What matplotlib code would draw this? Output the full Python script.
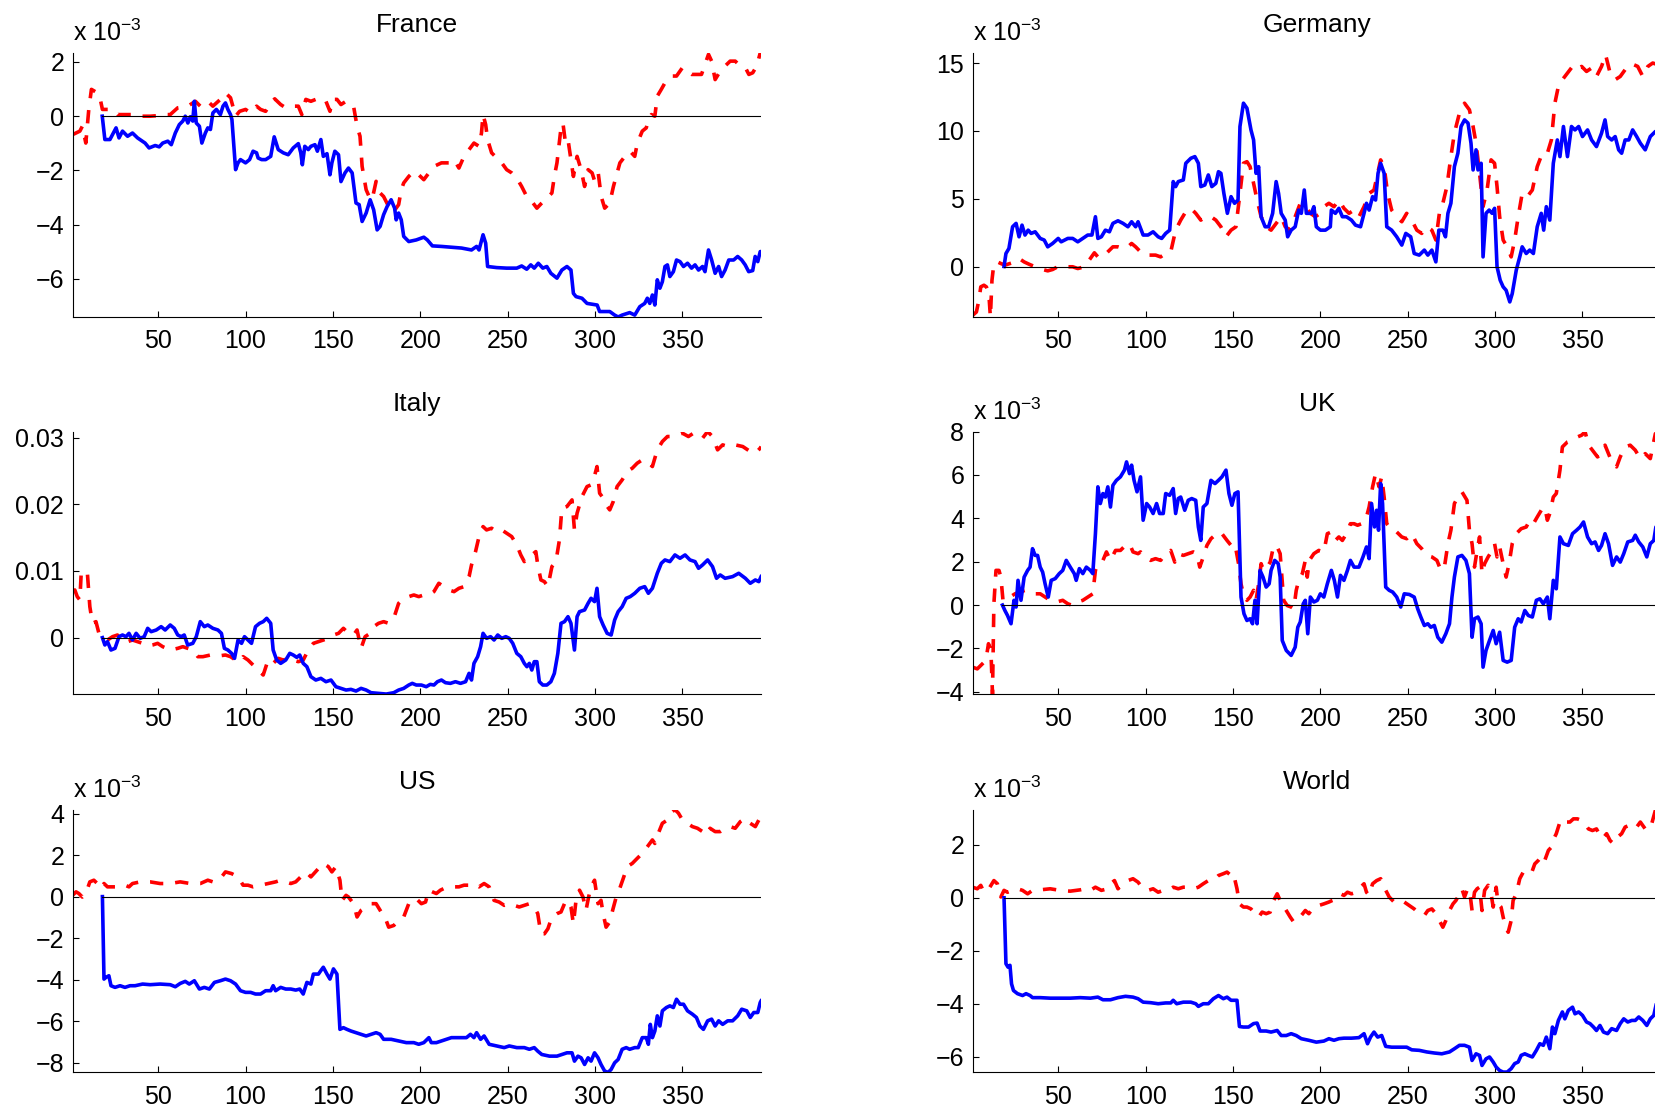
import numpy as np
import matplotlib
matplotlib.use("Agg")
import matplotlib.pyplot as plt
from matplotlib.ticker import FixedLocator, FuncFormatter

plt.rcParams["font.family"] = ["Liberation Sans", "DejaVu Sans"]
plt.rcParams["mathtext.fontset"] = "custom"
plt.rcParams["mathtext.rm"] = "Liberation Sans"
plt.rcParams["mathtext.it"] = "Liberation Sans:italic"
plt.rcParams["mathtext.bf"] = "Liberation Sans:bold"

# (period, value) pairs, values in units of 1e-3
france_blue = [
    (18, 0), (19.5, -0.86), (22.4, -0.86), (25.9, -0.43), (27.6, -0.8), (29.6, -0.55),
    (32.5, -0.74), (35.3, -0.62), (38.2, -0.8), (42.5, -0.99), (44.8, -1.17), (48.3, -1.08),
    (50.6, -1.13), (52.6, -0.99), (55.5, -0.92), (57.5, -1.05), (59.8, -0.62), (62.1, -0.31),
    (64.1, -0.18), (65.5, 0), (67, -0.25), (68.4, -0.02), (69.8, -0.18), (70.7, 0.55),
    (71.8, -0.25), (73.6, -0.37), (75, -0.99), (77, -0.62), (78.4, -0.43), (79.9, -0.49),
    (81.3, 0.12), (83.3, 0.25), (85.6, 0.06), (87.1, 0.37), (88.5, 0.49), (89.9, 0.25),
    (91.4, 0.06), (92.2, -0.12), (94.3, -1.97), (95.7, -1.72), (97.1, -1.6), (100, -1.72),
    (102.3, -1.6), (104.3, -1.29), (106.3, -1.35), (107.2, -1.54), (109.2, -1.6), (111.5, -1.6),
    (114.4, -1.48), (116.4, -0.76), (118.7, -1.23), (121.6, -1.35), (124.4, -1.42), (127.3, -1.17),
    (130.2, -1.01), (131.6, -1.35), (132.5, -1.79), (133.9, -1.11), (135.9, -1.23), (137.4, -1.11),
    (139.7, -1.05), (141.1, -1.29), (143.1, -0.86), (144.5, -1.48), (146.6, -1.38), (148.3, -2.16),
    (149.4, -1.72), (151.1, -1.29), (153.2, -1.42), (154.6, -2.41), (156.9, -2.09), (158.9, -1.91),
    (161, -2.09), (163.2, -3.2), (165, -3.26), (166.7, -3.88), (169, -3.57), (171.3, -3.08),
    (173.3, -3.45), (175.3, -4.19), (177, -4.06), (179, -3.63), (181, -3.33), (183.3, -3.08),
    (185.3, -3.39), (186.2, -3.82), (187.6, -3.57), (189.1, -3.82), (190.5, -4.43), (193.4, -4.62),
    (197.7, -4.56), (202, -4.46), (204, -4.56), (206.9, -4.78), (212.1, -4.8), (217.8, -4.83),
    (223.6, -4.86), (229.3, -4.93), (232.2, -4.8), (233.6, -4.93), (235.9, -4.37), (237.4, -4.68),
    (238.5, -5.54), (243.7, -5.58), (249.4, -5.6), (255.2, -5.6), (258, -5.52), (260.9, -5.64),
    (263.2, -5.48), (265.2, -5.6), (267.5, -5.42), (270.1, -5.6), (272.4, -5.54), (274.7, -5.79),
    (278.2, -5.97), (281, -5.67), (283.9, -5.54), (286.2, -5.67), (287.6, -6.53), (289.1, -6.65),
    (292.5, -6.71), (295.4, -6.9), (301.2, -6.96), (302.6, -7.2), (308.4, -7.2), (311.2, -7.33),
    (313.2, -7.4), (315.5, -7.33), (319.8, -7.24), (322.7, -7.33), (325.6, -7.02), (328.4, -6.9),
    (329.9, -6.71), (331.3, -6.9), (332.8, -6.59), (334.2, -6.96), (335.6, -6.03), (337.1, -6.34),
    (338.5, -6.1), (340, -5.54), (341.4, -5.48), (342.8, -5.91), (344.8, -5.73), (346.6, -5.3),
    (348.6, -5.36), (350.6, -5.54), (352.9, -5.42), (355.2, -5.6), (357.2, -5.48), (359.2, -5.67),
    (361.5, -5.54), (362.9, -5.73), (364.9, -4.93), (366.7, -5.3), (368.7, -5.79), (370.7, -5.54),
    (372.4, -5.91), (374.4, -5.67), (376.5, -5.3), (379.3, -5.3), (381.6, -5.17), (383.9, -5.3),
    (385.9, -5.48), (387.9, -5.73), (390.2, -5.69), (391.6, -5.17), (393.1, -5.36), (394.5, -4.99),
    (395, -4.99),
]
france_red = [
    (1, -0.68), (5.2, -0.55), (6.6, -0.37), (8.6, -0.99), (10.3, 0.25), (11.8, 0.99), (15.2, 0.86),
    (16.7, 0.68), (18.1, 0.25), (21, 0.25), (23.9, 0.25), (26.7, 0.06), (31, 0.06), (35.3, 0.06),
    (39.7, 0), (45.4, 0), (49.7, 0.02), (52.6, 0.06), (56.9, 0.06), (61.2, 0.31), (67, 0.37),
    (71.3, 0.55), (74.1, 0.37), (78.4, 0.55), (81.3, 0.37), (85.6, 0.62), (88.5, 0.86), (91.4, 0.68),
    (94.3, 0), (96.6, 0.18), (100, 0.25), (102.9, 0.12), (106.3, 0.37), (108.6, 0.25), (111.5, 0.18),
    (114.4, 0.49), (116.7, 0.64), (120.1, 0.43), (123, 0.31), (125.9, 0.37), (130.2, 0.37),
    (132.2, 0.06), (134.5, 0.62), (137.4, 0.55), (140.2, 0.62), (143.1, 0.49), (146, 0.55),
    (148.3, 0.18), (149.7, 0.62), (152.3, 0.62), (154.6, 0.43), (157.5, 0.55), (160.3, 0.43),
    (161.8, 0.37), (163.8, -0.37), (165.5, -0.74), (166.7, -1.85), (169, -2.71), (170.7, -2.96),
    (172.4, -3.08), (174.7, -2.4), (177, -2.83), (179, -2.96), (181.9, -3.33), (184.8, -3.51),
    (187.6, -3.26), (189.1, -2.71), (190.5, -2.46), (193.4, -2.22), (196.3, -2.03), (199.1, -2.16),
    (202, -2.34), (204.9, -2.09), (207.8, -1.85), (212.1, -1.72), (216.4, -1.72), (219.3, -1.6),
    (222.1, -1.91), (225, -1.48), (227.9, -1.23), (230.7, -0.99), (233.6, -1.11), (235, -0.62),
    (235.9, 0.06), (237.4, -0.31), (238.5, -0.86), (240.8, -1.35), (246.6, -1.72), (249.4, -1.97),
    (252.3, -2.09), (255.2, -2.28), (258, -2.59), (260.9, -2.96), (263.8, -3.14), (266.7, -3.39),
    (269.5, -3.2), (272.4, -3.02), (275.3, -2.83), (276.7, -2.22), (278.2, -1.72), (280.4, -0.49),
    (281.6, -0.25), (283.3, -1.11), (284.8, -0.99), (286.2, -1.6), (287.6, -2.22), (289.7, -1.48),
    (292, -1.97), (294, -2.59), (296, -1.97), (298.3, -2.09), (299.8, -2.4), (301.8, -2.09),
    (303.5, -2.96), (305.5, -3.39), (308.4, -3.2), (310.5, -2.59), (314.2, -1.72), (317.1, -1.48),
    (320, -1.29), (322.7, -1.48), (324.2, -0.99), (327, -0.55), (329.3, -0.43), (330.5, -0.12),
    (332.2, 0.06), (334.2, 0), (335.6, 0.74), (337.9, 0.99), (340, 1.23), (342, 1.35), (343.7, 1.48),
    (346.6, 1.48), (350, 1.79), (352.3, 1.66), (355.2, 1.54), (358.6, 1.54), (360.9, 1.54),
    (362.9, 1.91), (364.9, 2.28), (366.7, 2.03), (368.7, 1.35), (371.6, 1.66), (374.4, 1.85),
    (377.3, 2.03), (380.2, 2.03), (383.1, 1.85), (386, 1.79), (388, 1.54), (390.2, 1.6),
    (392.5, 1.85), (394.5, 2.33), (395, 2.33),
]

germany_blue = [
    (19, 0), (20.1, 0.96), (21.8, 1.33), (23.9, 2.93), (25.9, 3.18), (27.6, 2.19), (29.3, 3.05),
    (31, 2.32), (32.8, 2.68), (34.5, 2.44), (36.8, 2.56), (39.7, 2.07), (42, 1.95), (44, 1.45),
    (46.8, 1.7), (50, 2.07), (51.7, 1.82), (55.5, 2.07), (58.3, 2.07), (61.2, 1.82), (64.1, 2.07),
    (66.9, 2.32), (69.3, 2.32), (71.3, 3.67), (72.7, 2.07), (74.7, 2.19), (77, 2.68), (79.3, 2.56),
    (81.3, 3.18), (84.2, 3.37), (87.1, 3.18), (89.9, 2.93), (92, 3.3), (94.3, 2.93), (95.7, 3.3),
    (98.6, 2.32), (101.4, 2.32), (104.3, 2.56), (107.2, 2.19), (109.2, 2.07), (111.5, 2.44),
    (113.8, 2.68), (115.8, 6.26), (117.2, 5.89), (118.7, 6.26), (121.6, 6.38), (123, 7.61),
    (125.9, 7.98), (128.2, 8.1), (130.2, 7.61), (131.6, 5.89), (133.9, 6.01), (135.9, 6.75),
    (137.9, 5.89), (140.2, 6.13), (141.7, 6.99), (143.1, 6.87), (144.8, 5.39), (146.8, 3.92),
    (148.9, 5.15), (150.9, 4.66), (152.9, 4.9), (154, 10.32), (156, 12.04), (158, 11.67),
    (160.3, 10.07), (161.8, 9.33), (163.2, 6.87), (164.7, 7.36), (166.1, 3.67), (168.4, 2.93),
    (170.4, 2.93), (172.7, 3.92), (174.7, 6.26), (176.1, 5.39), (177.6, 3.92), (179.9, 3.42),
    (181.3, 2.19), (183.3, 2.68), (185.6, 2.93), (187.6, 4.16), (189.1, 3.92), (190.8, 5.64),
    (192, 3.92), (194.8, 3.92), (196.3, 4.41), (197.7, 2.93), (200, 2.68), (202.9, 2.68),
    (205.7, 2.93), (206.3, 4.16), (208.6, 3.92), (210.6, 4.29), (212.6, 3.67), (214.9, 3.67),
    (217.8, 3.42), (220.1, 3.05), (223, 2.93), (225, 3.92), (226.4, 4.66), (227.9, 4.16),
    (229.9, 5.15), (231.6, 4.9), (233, 6.87), (234.5, 7.61), (236.5, 6.87), (238, 2.93),
    (240.8, 2.68), (243.7, 2.19), (246.6, 1.58), (248.9, 2.44), (251.7, 2.19), (253.7, 0.96),
    (256.6, 0.84), (259.5, 1.21), (261.5, 0.84), (263.8, 1.21), (266.1, 0.34), (267.8, 2.68),
    (270.1, 2.68), (271.6, 2.19), (273, 3.92), (274.7, 4.66), (276.7, 7.36), (278.7, 8.35),
    (280.5, 10.32), (282.5, 10.81), (284.5, 10.57), (286.2, 9.09), (287.4, 7.12), (289.1, 8.6),
    (290.2, 7.12), (292, 7.61), (293.1, 0.71), (294.8, 3.92), (296.6, 4.16), (298.3, 3.92),
    (299.7, 4.29), (301.1, -0.02), (302.9, -1.01), (304.6, -1.5), (306.3, -1.75), (308.4, -2.61),
    (309.8, -2.0), (312.1, -0.27), (314.1, 0.71), (315.5, 1.45), (317.8, 0.96), (319.8, 1.21),
    (321.9, 0.96), (324.1, 2.93), (326.4, 3.92), (327.8, 2.68), (329.3, 4.41), (331.3, 3.42),
    (333.3, 7.61), (335.6, 9.33), (337.1, 8.1), (339.1, 10.32), (341.4, 8.1), (343.7, 10.32),
    (345.7, 10.07), (347.8, 10.32), (350, 9.58), (352.9, 10.07), (355.2, 9.33), (358, 8.84),
    (360.9, 9.83), (362.9, 10.81), (364.4, 9.58), (366.7, 9.33), (368.7, 9.58), (370.7, 8.6),
    (372.4, 8.35), (374.4, 9.33), (376.5, 9.33), (378.7, 10.07), (381, 9.58), (383.1, 9.09),
    (385.9, 8.6), (388.8, 9.58), (391.7, 9.95), (395, 10.1),
]
germany_red = [
    (1, -3.6), (3.2, -3.35), (4.6, -2.49), (5.7, -1.5), (7.5, -1.38), (8.9, -1.5), (10.3, -2.0),
    (11.2, -3.72), (12.1, -1.01), (13.2, 0.22), (15.2, 0.34), (17.2, 0.22), (19.5, 0.1), (22.4, 0.22),
    (25.3, 0.34), (27.6, 0.59), (30.5, 0.34), (33.3, 0.17), (36.8, -0.02), (41.1, -0.22),
    (44, -0.32), (46.8, -0.22), (49.7, -0.02), (54, -0.02), (58.3, -0.02), (61.2, -0.15),
    (64.9, -0.02), (68.4, 0.59), (70.7, 1.01), (72.7, 0.71), (75.6, 0.71), (78.4, 1.08), (81.3, 1.45),
    (84.2, 1.45), (87.1, 1.33), (89.9, 1.45), (92, 1.7), (94.3, 1.45), (97.1, 1.08), (99.4, 0.84),
    (102.9, 0.84), (105.7, 0.84), (108.6, 0.71), (111.5, 0.96), (114.4, 1.08), (117.2, 2.68),
    (120.1, 3.42), (123, 4.04), (125.9, 4.29), (128.7, 3.92), (131.6, 3.42), (134.5, 3.67),
    (137.4, 3.67), (140.2, 3.42), (143.1, 2.93), (146, 2.19), (148.9, 2.68), (151.7, 2.93),
    (154, 5.39), (156, 7.61), (158, 7.73), (159.8, 7.36), (161.8, 6.13), (163.8, 4.9), (166.1, 3.67),
    (169, 2.93), (171.8, 2.68), (174.7, 3.18), (177.6, 3.67), (179.9, 2.93), (182.8, 2.68),
    (185.6, 3.67), (188.5, 4.66), (191.4, 4.41), (194.3, 3.92), (197.1, 3.67), (200, 3.92),
    (202, 4.41), (204.9, 4.66), (207.8, 4.41), (210.6, 4.9), (213.5, 4.29), (216.4, 3.92),
    (219.3, 4.16), (222.1, 3.67), (225, 4.41), (227.9, 5.39), (230.7, 5.64), (232.8, 6.87),
    (234.5, 7.86), (236.5, 7.36), (238.5, 5.39), (240.8, 4.16), (243.7, 3.67), (246.6, 3.3),
    (249.4, 3.92), (252.3, 3.42), (255.2, 2.68), (258, 2.44), (260.9, 2.93), (263.8, 2.68),
    (266.1, 1.95), (268.1, 3.92), (270.1, 4.66), (272.4, 5.89), (274.7, 8.1), (276.7, 9.83),
    (279.6, 11.31), (282.5, 12.04), (285.3, 11.55), (287.4, 10.32), (289.1, 9.09), (291.1, 6.87),
    (293.1, 4.41), (295.4, 5.64), (297.7, 7.86), (299.7, 7.61), (301.1, 5.89), (302.6, 3.67),
    (304.6, 1.95), (306.9, 1.45), (309.2, 0.71), (311.2, 1.95), (313.2, 3.67), (315.5, 5.39),
    (318.4, 5.15), (321.3, 5.64), (324.1, 7.36), (327, 8.35), (329.9, 8.35), (332.2, 9.33),
    (334.2, 12.04), (336.2, 13.28), (338.5, 13.77), (341.4, 14.26), (344.3, 14.75), (346.6, 14.51),
    (349.5, 14.75), (352.3, 14.38), (355.2, 14.63), (358, 14.01), (360.9, 14.75), (363.2, 15.62),
    (365.8, 14.26), (368.7, 13.77), (371.6, 14.01), (374.4, 14.51), (377.3, 14.51), (379.3, 14.88),
    (381.6, 14.75), (384.5, 14.01), (387.4, 14.75), (390.2, 15.0), (395, 14.8),
]

italy_blue = [
    (18.1, 0), (19.5, -1.1), (21, -0.6), (23, -1.85), (25.3, -1.6), (27.6, 0.15), (29.6, 0.4),
    (31.6, 0.15), (33.3, 0.65), (35.3, -0.35), (37.4, 0.65), (39.7, -0.1), (42, 0.15), (44, 1.4),
    (46, 0.9), (48.9, 1.15), (51.7, 1.65), (54, 1.15), (56.9, 1.9), (59.2, 1.4), (61.2, 0.4),
    (63.2, 0.15), (64.9, 0.4), (66.9, -1.1), (69.8, -0.85), (71.8, 0.15), (74.1, 2.4), (76.4, 1.65),
    (78.4, 1.9), (81.3, 1.4), (84.2, 1.15), (86.2, 0.65), (87.9, -1.6), (89.9, -1.85), (92, -2.35),
    (93.7, -3.1), (95.7, -0.35), (97.7, -0.85), (99.4, 0.15), (101.4, -0.35), (103.4, -0.85),
    (105.7, 1.65), (108, 2.15), (110.1, 2.4), (112.1, 2.9), (114.4, 2.15), (115.8, -1.85),
    (117.8, -3.35), (120.1, -3.85), (123, -3.35), (125.3, -2.35), (127.3, -2.6), (129.3, -2.95),
    (131, -2.6), (133, -3.85), (135.1, -4.35), (137.4, -5.85), (140.2, -6.35), (143.1, -6.1),
    (146, -6.6), (148.9, -6.35), (151.7, -7.35), (154.6, -7.6), (157.5, -7.85), (160.3, -7.75),
    (163.2, -8.0), (166.1, -7.6), (169, -7.85), (171.8, -8.25), (176.1, -8.35), (180.5, -8.45),
    (184.8, -8.25), (187.6, -7.85), (190.5, -7.6), (193.4, -7.1), (195.4, -6.85), (197.7, -7.1),
    (200.6, -7.1), (203.4, -7.35), (205.7, -7.0), (207.8, -7.1), (209.8, -6.6), (212.1, -6.35),
    (214.4, -6.75), (217.2, -6.85), (220.1, -6.6), (223, -6.85), (225.9, -6.6), (227.9, -5.35),
    (229.3, -6.35), (230.7, -3.85), (232.8, -2.85), (234.5, -1.35), (235.9, 0.65), (237.9, -0.1),
    (240.2, 0.15), (242.2, -0.35), (244.3, 0.4), (246.6, -0.1), (248.9, 0.15), (250.9, -0.1),
    (252.9, -0.85), (255.2, -2.35), (257.5, -2.85), (259.5, -3.85), (261, -4.35), (262.4, -3.85),
    (263.8, -4.85), (265.2, -3.6), (266.7, -3.6), (268.1, -6.6), (270.1, -7.1), (272.4, -7.1),
    (274.7, -6.6), (276.7, -5.35), (278.7, -2.35), (280.5, 2.15), (282.5, 2.4), (284.5, 3.15),
    (286.2, 2.15), (288.2, -1.85), (289.7, 3.15), (291.1, 3.9), (294, 4.15), (296, 5.15),
    (297.7, 5.9), (299.7, 5.4), (301.1, 7.4), (302.6, 3.15), (304.6, 1.9), (306.9, 0.65),
    (309.2, 0.4), (311.2, 2.65), (313.2, 3.9), (315.5, 4.65), (317.8, 5.9), (320.1, 6.15),
    (322.7, 6.65), (325.6, 7.4), (328.4, 7.65), (330.5, 6.65), (332.8, 7.4), (335.6, 9.65),
    (337.9, 11.15), (340, 11.65), (342.8, 11.4), (345.7, 12.4), (348.6, 11.9), (351.5, 12.4),
    (354.3, 11.65), (357.2, 11.4), (359.2, 10.4), (361.5, 10.9), (364.4, 11.65), (367.2, 10.65),
    (369.5, 8.9), (371.6, 9.4), (374.4, 8.9), (378.7, 9.15), (382.2, 9.65), (386, 8.9),
    (388.8, 8.15), (391.7, 8.65), (393.7, 8.4), (395, 9.15),
]
italy_red = [
    (1, 6.9), (2.3, 7.15), (3.7, 6.15), (5.2, 5.65), (6, 9.9), (8, 9.9), (9.5, 9.65), (10.9, 4.65),
    (12.4, 2.15), (14.4, 2.4), (16.1, 0.65), (18.1, -0.1), (21, -0.35), (23.9, 0.15), (26.7, 0.4),
    (29.6, -0.35), (32.5, -0.6), (35.3, -0.35), (38.2, -0.6), (41.1, -0.85), (44, -1.25),
    (46.8, -1.1), (49.7, -0.85), (52.6, -1.35), (56.9, -1.85), (61.2, -1.6), (64.1, -1.35),
    (66.9, -1.6), (69.8, -1.85), (72.7, -2.85), (75.6, -2.85), (79.9, -2.6), (84.2, -2.75),
    (88.5, -2.6), (91.4, -2.85), (94.3, -3.35), (96.6, -3.6), (98.6, -2.85), (101.4, -3.35),
    (104.3, -4.1), (107.2, -4.85), (110.1, -5.6), (112.9, -3.35), (115.8, -3.85), (118.7, -3.1),
    (121.6, -3.35), (124.4, -3.1), (127.3, -3.35), (130.2, -3.6), (133, -3.35), (135.9, -1.85),
    (138.8, -0.85), (141.7, -0.6), (144.5, -0.35), (147.4, -0.1), (150.3, 0.4), (153.2, 0.65),
    (156, 1.4), (158.9, 0.65), (161.8, 0.4), (163.8, 1.15), (166.1, -1.6), (168.4, 0.15),
    (171.3, 0.65), (173.3, 1.65), (176.1, 2.15), (179, 2.4), (181.9, 2.15), (184.8, 2.9),
    (187.6, 5.15), (190.5, 5.9), (193.4, 6.15), (196.3, 6.4), (199.1, 6.15), (202, 6.4),
    (204.9, 6.4), (207.8, 6.9), (210.6, 8.15), (213.5, 7.65), (216.4, 7.15), (219.3, 6.9),
    (222.1, 7.4), (225, 7.65), (227.9, 9.15), (229.3, 10.9), (231.6, 12.9), (233.6, 15.15),
    (235.9, 16.65), (237.9, 16.15), (240.8, 16.4), (243.7, 15.9), (246.6, 16.15), (249.4, 15.65),
    (252.3, 15.15), (255.2, 13.9), (257.5, 12.4), (259.5, 11.4), (261.5, 12.15), (263.8, 12.4),
    (266.1, 12.9), (267.2, 10.9), (269, 8.65), (271, 8.4), (273, 7.65), (275.3, 10.65),
    (277.6, 11.4), (279.6, 14.65), (281, 19.4), (283.9, 19.65), (286.8, 20.65), (288.2, 16.15),
    (289.7, 18.65), (292.5, 21.15), (295.4, 22.65), (297.7, 22.9), (299.6, 24.15), (301.1, 25.65),
    (302.6, 21.65), (304, 21.15), (306.3, 19.9), (308.4, 19.15), (310.4, 20.4), (312.6, 22.65),
    (315.5, 23.65), (318.4, 24.9), (321.3, 25.4), (324.1, 26.15), (327, 26.65), (329.9, 26.4),
    (332.8, 25.65), (335.6, 28.15), (338.5, 29.4), (341.4, 30.15), (344.3, 30.15), (347.1, 30.4),
    (350, 30.65), (353.4, 30.15), (356.3, 30.65), (359.2, 30.4), (361.5, 29.9), (364.4, 30.9),
    (367.2, 30.15), (370.1, 28.15), (373, 28.9), (375.9, 28.65), (380.2, 28.9), (384.5, 28.65),
    (388.8, 27.9), (391.7, 27.65), (394.5, 28.4), (395, 28.65),
]

uk_blue = [
    (18.1, 0), (19.5, -0.25), (21, -0.48), (23, -0.86), (24.7, 0.22), (25.9, -0.09), (27, 1.14),
    (28.7, 0.22), (30.5, 1.29), (32.5, 1.6), (33.9, 1.75), (35.3, 2.6), (36.8, 2.29), (38.2, 2.29),
    (39.7, 1.75), (41.1, 1.52), (42.5, 0.98), (44.3, 0.37), (46, 1.14), (48.3, 1.22), (50.6, 1.45),
    (52.6, 1.6), (54.6, 2.06), (56.9, 1.75), (59.2, 1.45), (60.3, 1.14), (62.1, 1.68), (64.1, 1.45),
    (66.1, 1.75), (68.4, 1.6), (69.8, 1.45), (71.3, 3.29), (72.7, 5.45), (74.1, 4.68), (75.6, 5.14),
    (77, 4.98), (78.4, 5.45), (79.9, 4.52), (81.3, 5.52), (83.3, 5.75), (85.6, 5.91), (87.9, 6.22),
    (89.1, 6.6), (90.8, 6.06), (92, 6.45), (93.4, 5.75), (95.1, 5.22), (97.1, 5.91), (98.6, 3.91),
    (100.6, 4.68), (102.3, 4.52), (104.3, 4.22), (106.3, 4.68), (108, 4.22), (110.1, 4.22),
    (111.5, 5.14), (113.8, 5.06), (115.8, 5.37), (117.2, 4.22), (118.7, 4.91), (120.1, 4.98),
    (122.4, 4.37), (124.4, 4.83), (126.4, 4.91), (128.7, 4.83), (130.2, 3.6), (131.6, 2.98),
    (133, 4.52), (135.1, 4.68), (137.4, 5.75), (139.7, 5.6), (141.7, 5.75), (143.7, 5.91),
    (146, 6.22), (147.7, 5.14), (149.4, 4.6), (151.1, 5.14), (152.9, 5.22), (154.6, 0.37),
    (156.3, -0.4), (158, -0.71), (159.8, -0.63), (161.2, -0.86), (162.6, 0.22), (163.8, -0.86),
    (165.5, 1.6), (167.2, 1.29), (169, 0.83), (170.7, 0.98), (171.8, 1.6), (173.9, 2.06),
    (175.9, 1.91), (177, 1.29), (178.2, -1.63), (180.5, -2.09), (183.3, -2.32), (185.6, -1.94),
    (187.1, -1.02), (188.5, -0.78), (190.2, 0.06), (191.4, 0.22), (192.8, -1.32), (194.3, 0.37),
    (196.3, 0.14), (198.3, 0.22), (200, 0.52), (202, 0.37), (204, 0.98), (206.3, 1.6), (208, 1.14),
    (209.8, 0.37), (211.5, 1.37), (213.5, 1.14), (215.5, 1.6), (217.2, 2.06), (219.3, 1.75),
    (222.1, 1.75), (224.4, 2.22), (226.4, 2.68), (227.9, 2.14), (229.3, 4.68), (231, 3.6),
    (232.2, 4.37), (233.3, 3.45), (234.5, 5.6), (235.6, 4.68), (237.4, 0.83), (239.4, 0.68),
    (241.4, 0.6), (243.7, 0.37), (246, -0.09), (248, 0.52), (250.9, 0.49), (253.7, 0.37),
    (255.7, -0.17), (257.5, -0.55), (259.5, -0.94), (261.5, -0.86), (263.2, -1.02), (265.2, -0.94),
    (267.2, -1.48), (269.5, -1.71), (271.8, -1.32), (273.9, -0.86), (275.3, 0.37), (276.7, 1.29),
    (278.7, 2.22), (281, 2.29), (283.3, 2.06), (285.3, 1.45), (286.8, -1.48), (288.2, -0.63),
    (290.2, -0.55), (292, -0.86), (293.1, -2.86), (294.8, -2.09), (296.8, -1.63), (298.9, -1.17),
    (300.6, -1.78), (302.6, -1.25), (304.6, -2.55), (306.9, -2.63), (309.2, -2.55), (311.2, -1.02),
    (313.2, -0.63), (314.9, -0.78), (317, -0.25), (319, -0.48), (321.3, -0.55), (323.6, 0.22),
    (325.6, 0.29), (327.6, 0.06), (329.9, 0.37), (331.3, -0.63), (333.3, 1.14), (335, 0.75),
    (337.1, 3.14), (339.1, 2.83), (341.9, 2.75), (344.3, 3.29), (346.6, 3.45), (348.6, 3.6),
    (350.6, 3.83), (352.9, 3.14), (355.2, 2.83), (357.2, 2.91), (359.2, 2.52), (360.9, 2.75),
    (362.9, 3.29), (364.9, 2.83), (367.2, 1.83), (369.5, 2.22), (371.6, 1.98), (373.6, 2.37),
    (375.9, 2.91), (378.7, 2.98), (380.2, 3.22), (382.2, 2.91), (384.5, 2.68), (386.8, 2.22),
    (388.8, 2.83), (390.8, 2.98), (392, 3.6), (395, 3.5),
]
uk_red = [
    (1, -2.86), (3.7, -2.94), (6.6, -2.71), (8.6, -2.55), (10.1, -1.78), (11.5, -2.09),
    (12.4, -4.1), (13.2, 0.06), (14.4, 1.6), (16.1, 1.6), (17.2, 1.29), (18.4, 0.22), (20.1, 0.22),
    (22.4, 0.37), (25.3, 0.52), (28.2, 0.6), (31, 0.68), (33.9, 0.65), (36.8, 0.52), (39.7, 0.52),
    (42.5, 0.37), (45.4, 0.22), (48.9, 0.14), (52.6, 0.22), (55.5, 0.06), (58.3, -0.02),
    (61.2, 0.14), (64.1, 0.22), (66.9, 0.37), (69.8, 0.52), (71.3, 1.6), (72.7, 1.91), (75.6, 2.06),
    (77.6, 2.45), (79.9, 2.06), (82.8, 2.52), (85.6, 2.52), (88.5, 2.75), (90.8, 2.83), (92.8, 2.45),
    (95.7, 2.37), (97.1, 2.45), (99.4, 2.22), (102.9, 2.06), (105.7, 2.14), (108.6, 2.06),
    (111.5, 2.37), (114.4, 2.52), (116.7, 1.98), (118.7, 2.37), (121.6, 2.29), (124.4, 2.37),
    (127.3, 2.45), (129.3, 2.37), (131, 1.75), (133, 2.22), (135.1, 2.75), (137.4, 3.06),
    (139.7, 3.22), (141.7, 3.14), (143.7, 3.29), (146.6, 2.98), (148.9, 2.75), (151.1, 2.83),
    (153.2, 1.91), (154.6, 0.98), (156.3, 0.37), (158, 0.22), (159.8, 0.37), (161.8, 0.68),
    (163.2, 0.22), (164.7, 0.98), (166.1, 1.91), (167.5, 1.6), (169.5, 1.75), (171.3, 1.98),
    (173.3, 2.75), (175.3, 2.68), (177, 2.37), (179, 0.22), (181, -0.02), (183.3, -0.09),
    (184.8, -0.17), (186.2, 0.68), (187.6, 1.14), (189.7, 1.45), (191.4, 2.06), (192.5, 1.29),
    (193.7, 2.06), (196.3, 2.37), (199.1, 2.52), (202, 2.45), (204, 3.29), (206.3, 3.37),
    (208.6, 2.98), (210.6, 3.14), (212.6, 2.98), (214.9, 3.29), (217.2, 3.75), (219.3, 3.75),
    (221.3, 3.68), (223.6, 3.75), (225.9, 3.91), (227.9, 4.52), (229.9, 5.45), (231.6, 6.06),
    (233.6, 5.45), (235.1, 5.91), (236.5, 4.98), (238, 3.75), (240.8, 3.45), (243.7, 3.37),
    (246.6, 3.14), (249.4, 3.06), (252.3, 3.29), (255.2, 2.83), (258, 2.6), (260.9, 2.29),
    (263.8, 2.22), (266.7, 2.06), (269, 1.6), (271, 1.75), (273, 2.83), (274.7, 3.45), (276.7, 4.68),
    (278.7, 4.98), (281, 5.22), (283.9, 4.83), (285.3, 3.45), (286.8, 2.83), (288.2, 1.75),
    (289.7, 2.52), (291.1, 3.14), (292.5, 1.45), (294, 1.91), (296, 2.22), (298.3, 2.52),
    (299.7, 2.83), (301.1, 2.22), (302.6, 2.68), (304.6, 1.91), (306.3, 1.29), (308, 1.91),
    (309.8, 2.83), (312.1, 3.29), (314.9, 3.52), (317.8, 3.6), (319.8, 3.91), (321.9, 3.75),
    (324.1, 4.06), (326.4, 4.37), (328.4, 4.52), (329.9, 3.91), (331.3, 4.22), (333.3, 4.98),
    (335, 5.14), (337.1, 6.22), (338.5, 7.29), (341.4, 7.52), (344.3, 7.6), (347.1, 7.75),
    (349.5, 7.83), (351.5, 7.98), (353.5, 7.37), (355.7, 7.14), (358.6, 6.83), (360.9, 6.98),
    (362.9, 7.37), (364.9, 6.98), (367.2, 6.52), (369.5, 6.37), (371.6, 6.83), (374.4, 7.29),
    (377.3, 7.37), (380.2, 7.14), (383.1, 6.75), (385.9, 6.98), (388.8, 6.75), (391.7, 7.9),
    (395, 7.6),
]

us_blue = [
    (18.1, 0), (19, -3.97), (20.1, -3.89), (21.8, -3.81), (23, -4.29), (25.3, -4.37), (28.2, -4.29),
    (31, -4.37), (33.9, -4.29), (36.8, -4.29), (41.1, -4.21), (45.4, -4.24), (51.1, -4.21),
    (56.9, -4.24), (59.8, -4.34), (62.6, -4.18), (65.5, -4.08), (67.8, -4.21), (70.7, -4.05),
    (73.6, -4.45), (76.4, -4.37), (79.3, -4.45), (82.2, -4.13), (85.6, -4.05), (88.5, -3.97),
    (91.4, -4.05), (94.3, -4.21), (97.1, -4.53), (100, -4.61), (102.9, -4.61), (105.7, -4.69),
    (108.6, -4.69), (111.5, -4.53), (114.4, -4.53), (115.8, -4.29), (117.2, -4.53), (120.1, -4.37),
    (123, -4.45), (125.9, -4.45), (128.7, -4.5), (131, -4.45), (133, -4.69), (135.1, -4.13),
    (137.4, -4.21), (138.8, -3.73), (141.7, -3.73), (143.1, -3.56), (144.5, -3.4), (146.6, -3.73),
    (148.3, -3.97), (150.3, -3.48), (152.3, -3.73), (154, -6.39), (156, -6.31), (158, -6.39),
    (160.3, -6.47), (163.2, -6.55), (166.1, -6.63), (169, -6.71), (171.8, -6.63), (174.7, -6.55),
    (177, -6.63), (179, -6.87), (183.3, -6.87), (187.6, -6.95), (192, -7.03), (196.3, -7.03),
    (199.1, -7.11), (202, -7.03), (204.9, -6.79), (206.3, -7.03), (209.2, -7.03), (212.1, -6.95),
    (215, -6.87), (217.8, -6.79), (222.1, -6.79), (226.4, -6.79), (228.7, -6.63), (230.7, -6.79),
    (232.2, -6.55), (234.5, -6.87), (236.5, -6.71), (239.4, -7.11), (243.7, -7.19), (248, -7.27),
    (250.9, -7.19), (255.2, -7.27), (259.5, -7.27), (262.4, -7.35), (265.2, -7.27), (267.2, -7.44),
    (269.5, -7.6), (273.9, -7.68), (278.2, -7.68), (281, -7.6), (283.9, -7.52), (286.8, -7.52),
    (288.2, -7.92), (290.2, -7.68), (292, -7.76), (294, -8.08), (296, -7.76), (297.7, -7.92),
    (299.7, -7.52), (301.7, -7.76), (303.4, -8.08), (305.5, -8.4), (307.5, -8.46), (309.2, -8.32),
    (311.2, -8.0), (313.2, -7.84), (315.5, -7.35), (317.8, -7.27), (319.8, -7.35), (322.7, -7.27),
    (324.7, -7.27), (327, -6.79), (329.3, -6.79), (330.5, -7.11), (331.6, -6.15), (332.8, -6.79),
    (334.2, -6.47), (335.6, -5.74), (337.1, -6.23), (338.5, -5.5), (340.8, -5.34), (342.8, -5.26),
    (344.8, -5.34), (346.6, -4.94), (348.6, -5.18), (350.6, -5.18), (352.9, -5.5), (355.7, -5.66),
    (358, -5.82), (360, -6.23), (362, -6.39), (364.4, -5.98), (366.7, -5.9), (368.7, -6.23),
    (370.7, -5.98), (373, -6.15), (375.9, -5.98), (378.7, -5.98), (381.6, -5.74), (383.9, -5.42),
    (386.8, -5.5), (388.8, -5.82), (390.8, -5.58), (393.1, -5.58), (394.5, -5.1), (395, -5.02),
]
us_red = [
    (1, 0.06), (3, 0.23), (4.6, 0.15), (6.6, -0.02), (8.6, 0.15), (10.9, 0.71), (13.2, 0.79),
    (15.2, 0.63), (17.2, 0.39), (19, 0.63), (21, 0.47), (23.9, 0.47), (28.2, 0.47), (31, 0.55),
    (33.3, 0.47), (35.3, 0.63), (39.7, 0.71), (45.4, 0.71), (51.1, 0.63), (56.9, 0.63), (62.6, 0.71),
    (68.4, 0.63), (74.1, 0.63), (78.4, 0.79), (81.3, 0.71), (85.6, 0.87), (88.5, 1.19), (92, 1.11),
    (95.7, 0.95), (98.6, 0.55), (101.4, 0.55), (104.3, 0.47), (108.6, 0.55), (112.9, 0.63),
    (117.2, 0.71), (120.1, 0.79), (123, 0.71), (125.9, 0.63), (128.7, 0.71), (131.6, 0.95),
    (134.5, 1.19), (137.4, 0.95), (141.7, 1.35), (144.5, 1.6), (147.4, 1.44), (149.4, 1.19),
    (151.7, 1.44), (154, 0.79), (155.2, -0.18), (157.5, 0.06), (158.9, -0.02), (161.8, -0.34),
    (163.8, -0.98), (166.1, -0.66), (169, -0.5), (171.8, -0.34), (174.7, -0.34), (177.6, -0.74),
    (179, -0.82), (181.9, -1.47), (184.8, -1.39), (187.6, -1.15), (190.5, -0.98), (193.4, -0.34),
    (194.8, -0.18), (197.7, -0.1), (200.6, -0.34), (203, -0.26), (204.9, 0.31), (206.9, 0.23),
    (209.2, 0.15), (211.5, 0.31), (213.5, 0.39), (216.4, 0.47), (219.3, 0.47), (222.1, 0.47),
    (225, 0.55), (227.9, 0.55), (230.7, 0.63), (233.6, 0.47), (236.5, 0.63), (239.4, 0.47),
    (242.2, -0.18), (245.1, -0.26), (248, -0.42), (250.9, -0.34), (253.7, -0.42), (256.6, -0.5),
    (259.5, -0.42), (262.4, -0.34), (265.2, -0.5), (267.2, -0.82), (269, -1.79), (271, -1.79),
    (273, -1.55), (275.3, -0.98), (278.2, -0.82), (280.5, -0.74), (282.5, -0.34), (284.5, -0.18),
    (286.2, -0.5), (287.6, -1.31), (289.1, -0.18), (291.1, 0.31), (293.1, -0.02), (294.8, -0.66),
    (296.3, -0.02), (297.7, 0.47), (299.7, 0.79), (301.7, -0.34), (303.4, -0.18), (304.6, -0.82),
    (306.3, -1.47), (308.3, -1.23), (310.3, -0.58), (312.1, -0.02), (314.1, 0.39), (316.1, 0.87),
    (318.4, 1.44), (321.3, 1.6), (324.1, 1.84), (327, 2.08), (329.9, 2.4), (332.8, 2.73),
    (334.2, 2.56), (336.2, 3.05), (338.5, 3.53), (341.4, 3.69), (344.3, 4.1), (345.7, 4.19),
    (347.7, 4.02), (350, 3.69), (352.9, 3.53), (355.7, 3.37), (358.6, 3.29), (361.5, 3.13),
    (363.8, 2.97), (365.8, 3.29), (368.7, 3.13), (371.6, 3.13), (374.4, 3.29), (377.3, 3.37),
    (380.2, 3.29), (383.1, 3.61), (386, 3.77), (388.8, 3.53), (391.7, 3.37), (393.7, 3.69),
    (395, 4.19),
]

world_blue = [
    (19, 0), (20.1, -2.49), (21.3, -2.62), (22.4, -2.55), (23.3, -3.25), (24.4, -3.5), (26.7, -3.62),
    (29.6, -3.69), (31.6, -3.62), (33.9, -3.69), (35.3, -3.77), (39.7, -3.77), (45.4, -3.79),
    (51.1, -3.79), (56.9, -3.79), (62.6, -3.77), (68.4, -3.79), (72.7, -3.75), (75.6, -3.85),
    (79.9, -3.85), (84.2, -3.77), (88.5, -3.72), (92.8, -3.75), (95.7, -3.81), (98.6, -3.94),
    (102.9, -3.96), (107.2, -4.0), (111.5, -3.97), (114.4, -3.97), (115.8, -3.87), (117.8, -4.0),
    (121.6, -3.94), (125.9, -3.94), (128.7, -4.0), (130.2, -4.1), (133, -4.0), (135.9, -4.0),
    (138.8, -3.81), (141.7, -3.69), (144.5, -3.81), (146.6, -3.75), (148.9, -3.87), (152.3, -3.87),
    (153.7, -4.86), (156, -4.88), (158.9, -4.88), (161.8, -4.75), (163.8, -4.73), (165.5, -5.03),
    (169, -5.03), (171.8, -5.07), (175.3, -5.01), (177.6, -5.2), (180.5, -5.2), (183.3, -5.13),
    (186.2, -5.2), (189.1, -5.32), (193.4, -5.38), (197.7, -5.45), (202, -5.41), (204.9, -5.32),
    (207.8, -5.38), (210.6, -5.32), (213.5, -5.3), (217.8, -5.3), (222.1, -5.28), (225, -5.13),
    (227, -5.51), (228.7, -5.26), (230.7, -5.07), (232.8, -5.26), (235.1, -5.2), (237.4, -5.61),
    (240.8, -5.64), (245.1, -5.64), (249.4, -5.64), (252.3, -5.74), (256.6, -5.76), (260.9, -5.82),
    (265.2, -5.86), (269.5, -5.89), (273.9, -5.82), (276.7, -5.7), (279.6, -5.57), (282.5, -5.57),
    (285.3, -5.64), (286.8, -6.14), (289.1, -5.89), (291.1, -5.95), (292.5, -6.33), (294.8, -6.08),
    (296.8, -6.01), (298.9, -6.2), (300.6, -6.39), (302.6, -6.52), (304.6, -6.58), (306.9, -6.58),
    (309.2, -6.45), (311.2, -6.26), (313.2, -6.2), (314.9, -5.95), (317, -5.89), (319, -5.95),
    (321.3, -6.01), (323.6, -5.76), (325.6, -5.51), (327.6, -5.57), (329.3, -5.26), (331.3, -5.7),
    (332.8, -4.88), (334.2, -5.13), (336.2, -4.63), (338.5, -4.31), (339.9, -4.57), (341.9, -4.25),
    (344.3, -4.13), (345.7, -4.38), (347.8, -4.31), (350, -4.44), (352.3, -4.69), (354.3, -4.75),
    (356.3, -4.88), (358, -5.01), (360, -4.82), (362, -5.07), (364.4, -5.13), (366.7, -4.94),
    (369.5, -5.01), (371.6, -4.75), (373.6, -4.57), (375.9, -4.69), (378.2, -4.63), (380.2, -4.63),
    (382.2, -4.5), (384.5, -4.63), (386.8, -4.82), (388.8, -4.57), (390.8, -4.44), (392, -4.06),
    (395, -4.0),
]
world_red = [
    (1, 0.4), (3.7, 0.34), (5.7, 0.47), (7.5, 0.21), (10.9, 0.4), (13.2, 0.65), (15.2, 0.53),
    (17.2, 0.03), (19, 0.28), (21, 0.21), (23.9, 0.28), (26.7, 0.34), (29.6, 0.28), (32.5, 0.15),
    (35.3, 0.28), (39.7, 0.3), (45.4, 0.34), (51.1, 0.28), (56.9, 0.25), (62.6, 0.3), (65.5, 0.34),
    (68.4, 0.28), (71.3, 0.4), (74.7, 0.28), (78.4, 0.34), (79.9, 0.53), (82.2, 0.65), (84.2, 0.34),
    (87.1, 0.53), (89.9, 0.65), (92.8, 0.72), (95.7, 0.59), (98.6, 0.34), (101.4, 0.28),
    (104.3, 0.34), (107.2, 0.21), (110.1, 0.28), (112.9, 0.28), (115.8, 0.4), (118.7, 0.34),
    (121.6, 0.4), (124.4, 0.4), (127.3, 0.34), (130.2, 0.4), (133, 0.53), (135.9, 0.65),
    (138.8, 0.65), (141.7, 0.84), (144.5, 0.91), (146.6, 0.97), (148.9, 0.84), (150.3, 0.91),
    (152.3, 0.34), (153.7, -0.23), (156, -0.35), (158, -0.35), (160.3, -0.42), (162.6, -0.6),
    (164.7, -0.73), (166.7, -0.54), (169, -0.6), (171.3, -0.54), (173.3, -0.1), (175.3, 0.15),
    (177, -0.1), (178.2, -0.23), (180.5, -0.48), (182.8, -0.73), (184.8, -0.92), (186.8, -0.79),
    (189.1, -0.67), (191.4, -0.48), (193.4, -0.6), (196.3, -0.35), (199.1, -0.29), (202, -0.23),
    (204.9, -0.16), (206.9, -0.1), (209.2, -0.04), (211.5, 0.15), (213.5, 0.09), (215.5, 0.21),
    (217.8, 0.15), (220.7, 0.21), (223, 0.4), (225, 0.53), (226.4, 0.21), (227.9, 0.09),
    (229.9, 0.53), (232.2, 0.65), (234.5, 0.72), (236.5, 0.4), (239.4, 0.03), (242.2, -0.16),
    (245.1, -0.23), (248, -0.16), (250.9, -0.29), (253.7, -0.42), (256.6, -0.6), (259.5, -0.67),
    (261.5, -0.48), (263.8, -0.42), (266.1, -0.6), (268.1, -0.86), (270.1, -1.11), (271.8, -0.86),
    (273.9, -0.48), (275.9, -0.23), (277.6, -0.1), (279.6, 0.15), (281, 0.34), (282.5, 0.03),
    (283.9, 0.28), (285.3, 0.34), (286.8, -0.48), (288.2, 0.21), (289.7, 0.34), (291.1, 0.4),
    (292.5, -0.48), (294, 0.28), (296, 0.47), (297.7, 0.15), (298.9, -0.35), (300.6, 0.4),
    (301.7, -0.23), (303.4, -0.35), (304.6, -0.73), (306.3, -1.17), (307.5, -1.3), (309.2, -0.86),
    (310.3, -0.1), (312.1, 0.15), (314.1, 0.72), (316.1, 0.97), (318.4, 0.91), (320.7, 0.91),
    (322.7, 1.28), (324.7, 1.41), (327, 1.6), (328.4, 1.41), (330.5, 1.79), (332.2, 1.91),
    (333.6, 2.23), (335, 2.42), (337.1, 2.86), (338.5, 2.98), (340.8, 2.86), (342.8, 2.86),
    (344.8, 2.98), (347.1, 2.98), (349.4, 2.92), (351.4, 2.79), (353.4, 2.6), (355.7, 2.54),
    (358, 2.6), (360, 2.35), (361.5, 2.23), (363.8, 2.42), (365.8, 2.16), (367.8, 2.04),
    (370.1, 2.29), (372.4, 2.42), (374.4, 2.67), (376.5, 2.73), (378.7, 2.6), (381, 2.67),
    (383.1, 2.86), (385.9, 2.6), (388.8, 2.6), (391.7, 3.3), (395, 3.33),
]

titles = ["France", "Germany", "Italy", "UK", "US", "World"]
blue_series = [france_blue, germany_blue, italy_blue, uk_blue, us_blue, world_blue]
red_series = [france_red, germany_red, italy_red, uk_red, us_red, world_red]
y_limits = [(-7.4, 2.33), (-3.72, 15.74), (-8.45, 30.9), (-4.1, 8.0), (-8.46, 4.19), (-6.59, 3.33)]
y_ticks = [
    [-6, -4, -2, 0, 2],
    [0, 5, 10, 15],
    [0, 10, 20, 30],
    [-4, -2, 0, 2, 4, 6, 8],
    [-8, -6, -4, -2, 0, 2, 4],
    [-6, -4, -2, 0, 2],
]
x_ticks = [50, 100, 150, 200, 250, 300, 350]
x_range = (1, 395)

# axes boxes in figure fractions; the right column runs past the figure edge
col_left = [0.0438, 0.5873]
col_width = 0.4158
row_bottom = [0.7147, 0.3753, 0.0348]
row_height = [0.2376, 0.2363, 0.2365]

fig = plt.figure(figsize=(16.56, 11.11), dpi=100)

for i, name in enumerate(titles):
    row, col = divmod(i, 2)
    ax = fig.add_axes([col_left[col], row_bottom[row], col_width, row_height[row]])

    rx, ry = np.array(red_series[i]).T
    bx, by = np.array(blue_series[i]).T
    ax.plot(rx, ry, color="red", lw=2.6, ls=(0, (3.7, 3.3)))
    ax.plot(bx, by, color="blue", lw=2.6)
    ax.plot([bx[0], x_range[1]], [0, 0], color="black", lw=0.8)

    ax.set_xlim(*x_range)
    ax.set_ylim(*y_limits[i])
    ax.xaxis.set_major_locator(FixedLocator(x_ticks))
    ax.yaxis.set_major_locator(FixedLocator(y_ticks[i]))

    if name == "Italy":
        ax.yaxis.set_major_formatter(FuncFormatter(lambda v, p: f"{v / 1000:g}"))
    else:
        ax.annotate(r"x 10$^{\mathregular{-3}}$", xy=(0, 1), xycoords="axes fraction",
                    xytext=(0, 8.5), textcoords="offset points",
                    ha="left", va="baseline", fontsize=18)

    for side in ("top", "right"):
        ax.spines[side].set_visible(False)
    for side in ("left", "bottom"):
        ax.spines[side].set_linewidth(0.8)

    ax.tick_params(direction="in", length=4.5, width=0.8, labelsize=18)
    ax.tick_params(axis="x", pad=9)
    ax.tick_params(axis="y", pad=6)
    ax.set_title(name, fontsize=19, pad=15)

fig.savefig("out.png", dpi=100)
